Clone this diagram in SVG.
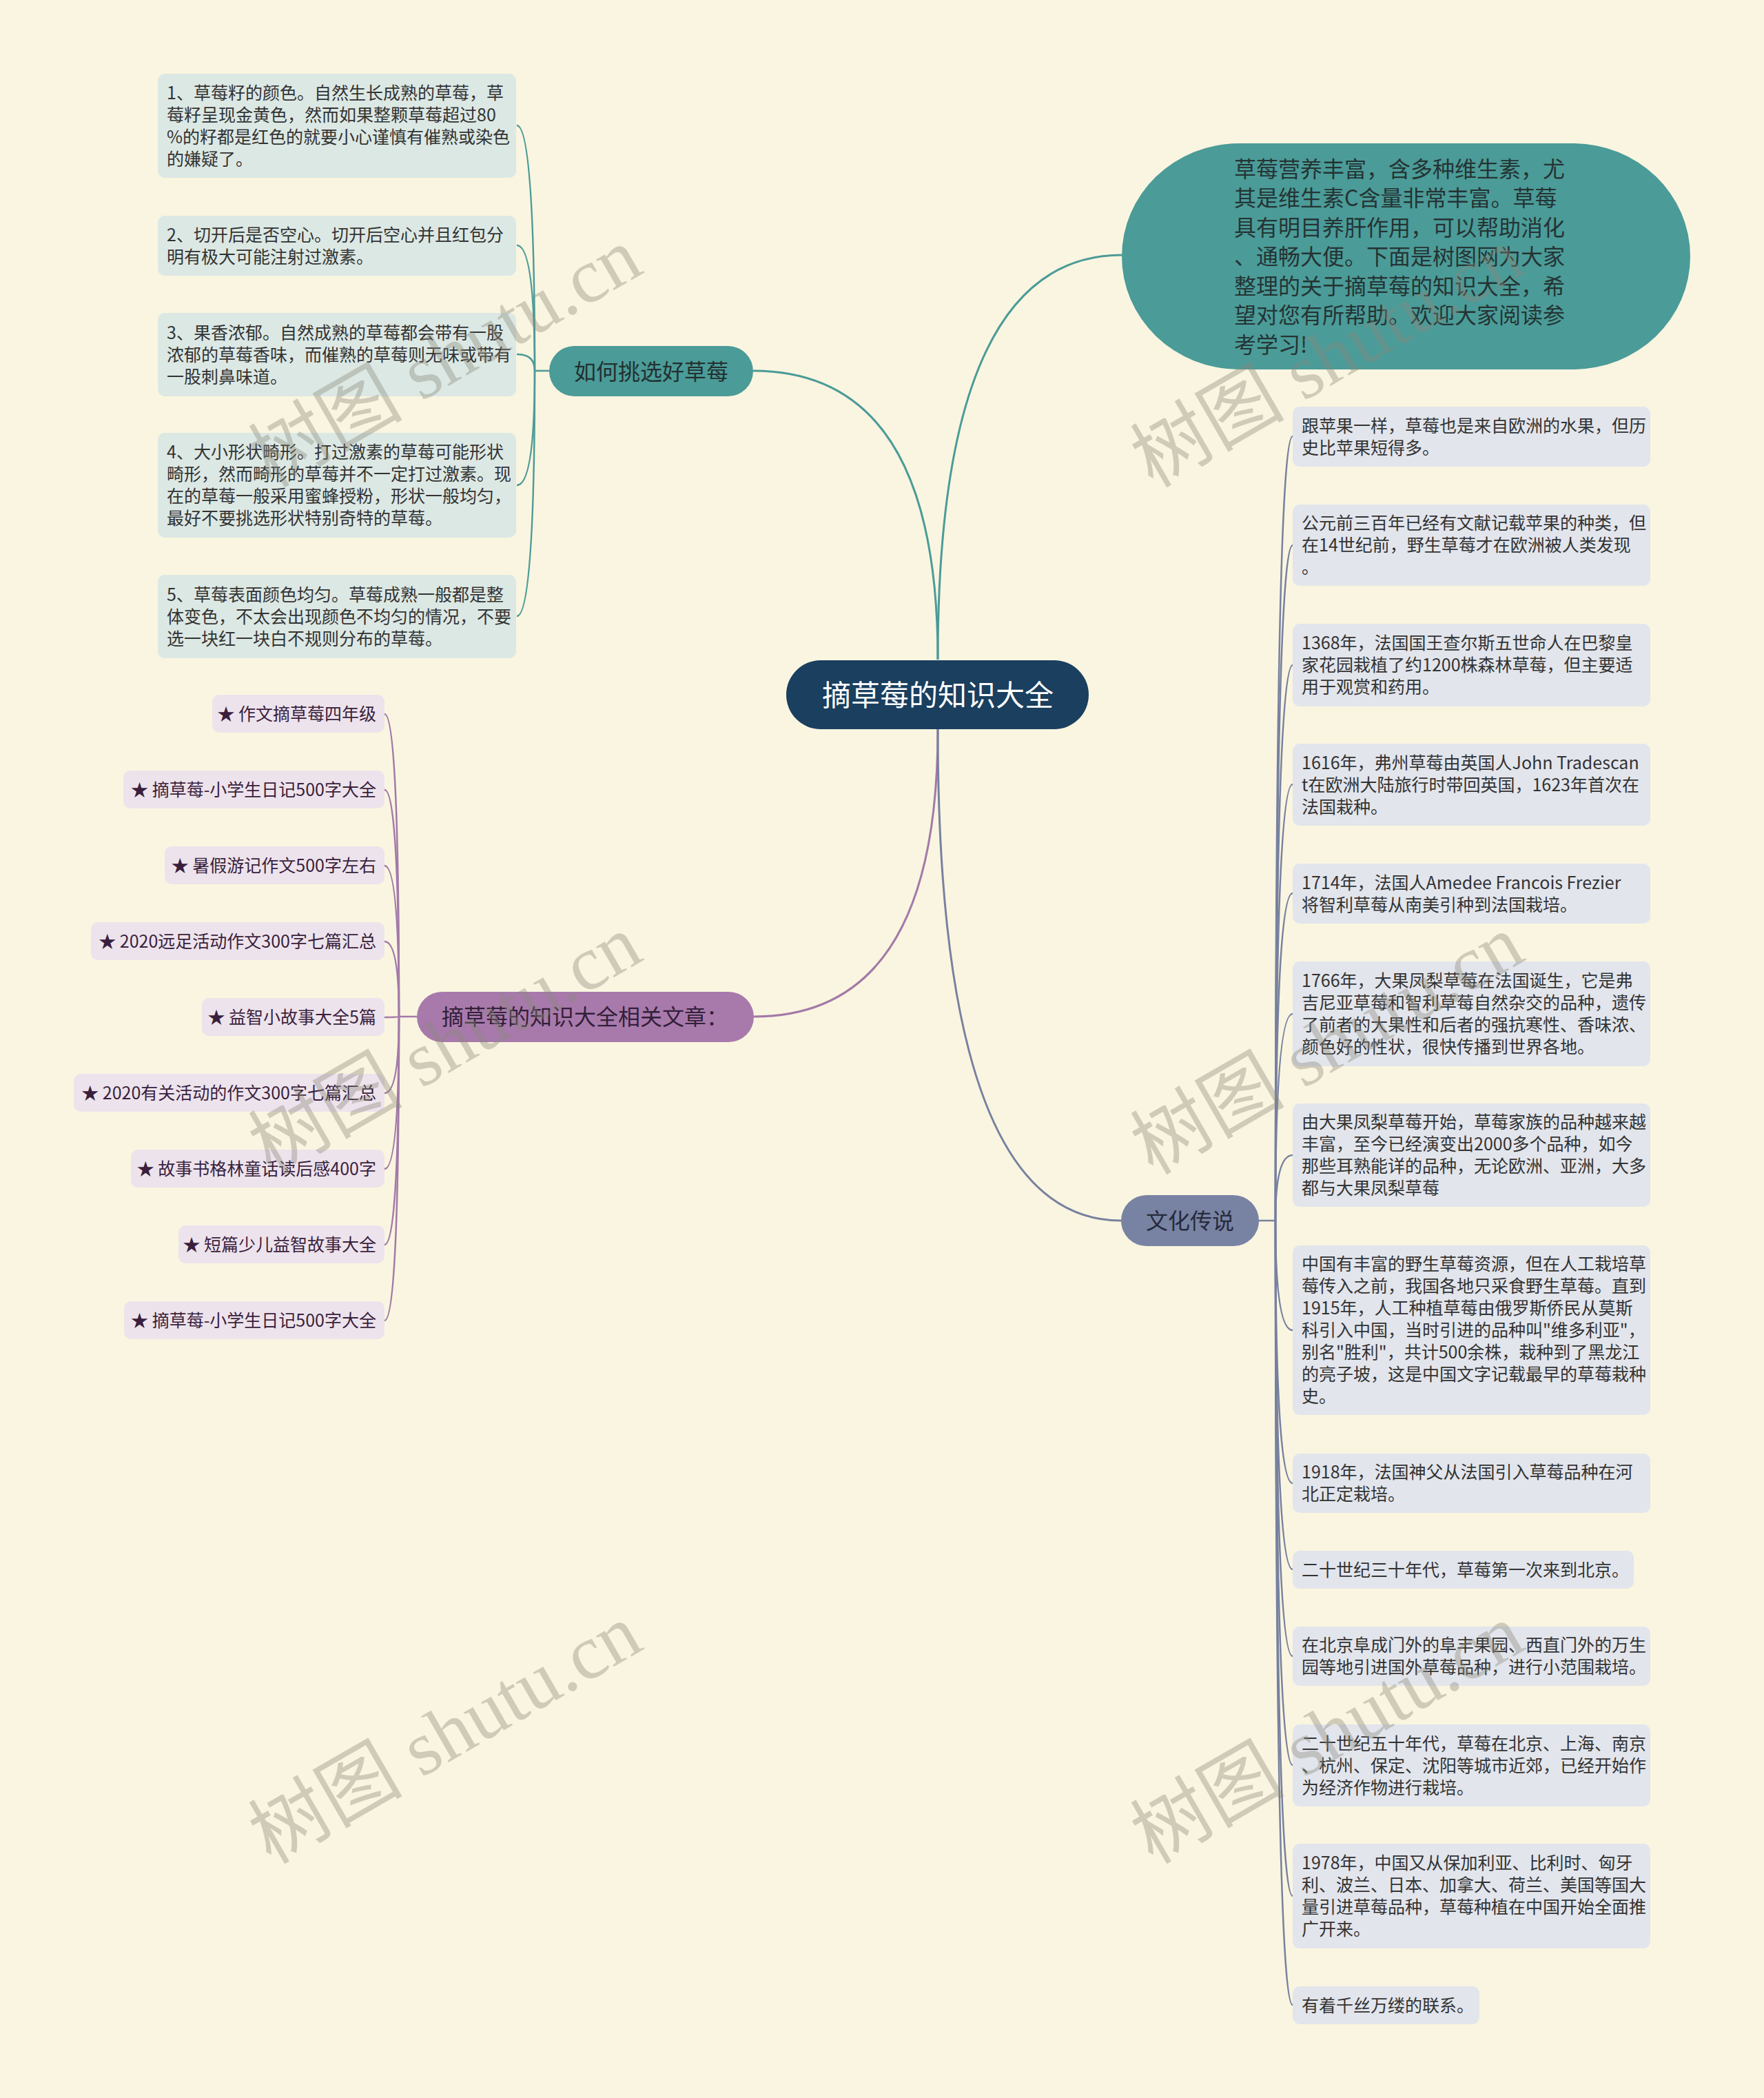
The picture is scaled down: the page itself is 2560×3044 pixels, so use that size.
<svg xmlns="http://www.w3.org/2000/svg" width="2560" height="3044" viewBox="0 0 2560 3044">
<style>
text{font-family:"Noto Sans CJK SC","Noto Sans",sans-serif;}
.t25{font-size:25px;fill:#333333;}
.tp{font-size:25px;fill:#3a1f3d;text-anchor:end;}
.b32{font-size:32px;fill:#22302f;text-anchor:middle;}
.intro{font-size:32px;fill:#243434;}
.cteal{fill:none;stroke:#4b9b98;stroke-width:3;}
.cpur{fill:none;stroke:#a27aa8;stroke-width:3;}
.cslate{fill:none;stroke:#77819f;stroke-width:3;}
.lteal{fill:#dce8e4;}
.lpur{fill:#ede3ec;}
.lslate{fill:#e2e5ec;}
.wm{font-family:"Liberation Serif","Noto Sans CJK SC",serif;font-size:112px;fill:#8a887a;opacity:0.38;text-anchor:middle;}
</style>
<rect x="0" y="0" width="2560" height="3044" fill="#faf5e0"/>

<g id="connectors">
<path class="cteal" d="M1361 957 Q1361 370 1628 370"/>
<path class="cteal" d="M1361 957 Q1361 538 1093 538"/>
<path class="cpur" d="M1361 1058 Q1361 1475 1094 1475"/>
<path class="cslate" d="M1361 1058 Q1361 1771 1627 1771"/>
<g class="cteal" style="stroke-width:2.5">
<path d="M797 538 H776"/>
<path d="M776 538 Q776 182 750 182"/>
<path d="M776 538 Q776 356 750 356"/>
<path d="M776 538 Q776 514 750 514"/>
<path d="M776 538 Q776 704 750 704"/>
<path d="M776 538 Q776 894 750 894"/>
</g>
<g class="cpur" style="stroke-width:2.5">
<path d="M605 1475 H579"/>
<path d="M579 1475 Q579 1036 558 1036"/>
<path d="M579 1475 Q579 1146 558 1146"/>
<path d="M579 1475 Q579 1256 558 1256"/>
<path d="M579 1475 Q579 1366 558 1366"/>
<path d="M579 1475 Q579 1476 558 1476"/>
<path d="M579 1475 Q579 1586 558 1586"/>
<path d="M579 1475 Q579 1696 558 1696"/>
<path d="M579 1475 Q579 1806 558 1806"/>
<path d="M579 1475 Q579 1916 558 1916"/>
</g>
<g class="cslate" style="stroke-width:2.5">
<path d="M1827 1771 H1851"/>
<path d="M1851 1771 Q1851 633 1876 633"/>
<path d="M1851 1771 Q1851 791 1876 791"/>
<path d="M1851 1771 Q1851 965 1876 965"/>
<path d="M1851 1771 Q1851 1138 1876 1138"/>
<path d="M1851 1771 Q1851 1296 1876 1296"/>
<path d="M1851 1771 Q1851 1471 1876 1471"/>
<path d="M1851 1771 Q1851 1676 1876 1676"/>
<path d="M1851 1771 Q1851 1930 1876 1930"/>
<path d="M1851 1771 Q1851 2152 1876 2152"/>
<path d="M1851 1771 Q1851 2277 1876 2277"/>
<path d="M1851 1771 Q1851 2403 1876 2403"/>
<path d="M1851 1771 Q1851 2561 1876 2561"/>
<path d="M1851 1771 Q1851 2751 1876 2751"/>
<path d="M1851 1771 Q1851 2909 1876 2909"/>
</g>
</g>

<g id="root">
<rect x="1141" y="958" width="439" height="100" rx="50" fill="#1a3f5f"/>
<text x="1361" y="1024" style="font-size:42px;fill:#ffffff;text-anchor:middle">摘草莓的知识大全</text>
</g>

<g id="intro">
<rect x="1628" y="208" width="825" height="328" rx="170" ry="164" fill="#4b9b98"/>
<text class="intro" x="1791" y="256.5">草莓营养丰富，含多种维生素，尤</text>
<text class="intro" x="1791" y="299">其是维生素C含量非常丰富。草莓</text>
<text class="intro" x="1791" y="341.5">具有明目养肝作用，可以帮助消化</text>
<text class="intro" x="1791" y="384">、通畅大便。下面是树图网为大家</text>
<text class="intro" x="1791" y="426.5">整理的关于摘草莓的知识大全，希</text>
<text class="intro" x="1791" y="469">望对您有所帮助。欢迎大家阅读参</text>
<text class="intro" x="1791" y="511.5">考学习!</text>
</g>

<g id="branch-pick">
<rect x="797" y="502" width="296" height="73" rx="36.5" fill="#4b9b98"/>
<text class="b32" x="945" y="550.5">如何挑选好草莓</text>
</g>

<g id="pick-1">
<rect class="lteal" x="229" y="107" width="520" height="151" rx="10"/>
<text class="t25" x="242" y="143.5">1、草莓籽的颜色。自然生长成熟的草莓，草</text>
<text class="t25" x="242" y="175.5">莓籽呈现金黄色，然而如果整颗草莓超过80</text>
<text class="t25" x="242" y="207.5">%的籽都是红色的就要小心谨慎有催熟或染色</text>
<text class="t25" x="242" y="239.5">的嫌疑了。</text>
</g>
<g id="pick-2">
<rect class="lteal" x="229" y="313" width="520" height="87" rx="10"/>
<text class="t25" x="242" y="349.5">2、切开后是否空心。切开后空心并且红包分</text>
<text class="t25" x="242" y="381.5">明有极大可能注射过激素。</text>
</g>
<g id="pick-3">
<rect class="lteal" x="229" y="454" width="520" height="121" rx="10"/>
<text class="t25" x="242" y="491.5">3、果香浓郁。自然成熟的草莓都会带有一股</text>
<text class="t25" x="242" y="523.5">浓郁的草莓香味，而催熟的草莓则无味或带有</text>
<text class="t25" x="242" y="555.5">一股刺鼻味道。</text>
</g>
<g id="pick-4">
<rect class="lteal" x="229" y="628" width="520" height="152" rx="10"/>
<text class="t25" x="242" y="665">4、大小形状畸形。打过激素的草莓可能形状</text>
<text class="t25" x="242" y="697">畸形，然而畸形的草莓并不一定打过激素。现</text>
<text class="t25" x="242" y="729">在的草莓一般采用蜜蜂授粉，形状一般均匀，</text>
<text class="t25" x="242" y="761">最好不要挑选形状特别奇特的草莓。</text>
</g>
<g id="pick-5">
<rect class="lteal" x="229" y="834" width="520" height="121" rx="10"/>
<text class="t25" x="242" y="871.5">5、草莓表面颜色均匀。草莓成熟一般都是整</text>
<text class="t25" x="242" y="903.5">体变色，不太会出现颜色不均匀的情况，不要</text>
<text class="t25" x="242" y="935.5">选一块红一块白不规则分布的草莓。</text>
</g>

<g id="branch-articles">
<rect x="605" y="1439" width="489" height="73" rx="36.5" fill="#a87aab"/>
<text class="b32" x="849" y="1487" style="fill:#33203a">摘草莓的知识大全相关文章：</text>
</g>
<g id="art-1"><rect class="lpur" x="308" y="1008" width="250" height="55" rx="10"/><text class="tp" x="546" y="1044.5">★ 作文摘草莓四年级</text></g>
<g id="art-2"><rect class="lpur" x="179" y="1118" width="379" height="55" rx="10"/><text class="tp" x="546" y="1154.5">★ 摘草莓-小学生日记500字大全</text></g>
<g id="art-3"><rect class="lpur" x="239" y="1228" width="319" height="55" rx="10"/><text class="tp" x="546" y="1264.5">★ 暑假游记作文500字左右</text></g>
<g id="art-4"><rect class="lpur" x="132" y="1338" width="426" height="55" rx="10"/><text class="tp" x="546" y="1374.5">★ 2020远足活动作文300字七篇汇总</text></g>
<g id="art-5"><rect class="lpur" x="293" y="1448" width="265" height="55" rx="10"/><text class="tp" x="546" y="1484.5">★ 益智小故事大全5篇</text></g>
<g id="art-6"><rect class="lpur" x="107" y="1558" width="451" height="55" rx="10"/><text class="tp" x="546" y="1594.5">★ 2020有关活动的作文300字七篇汇总</text></g>
<g id="art-7"><rect class="lpur" x="190" y="1668" width="368" height="55" rx="10"/><text class="tp" x="546" y="1704.5">★ 故事书格林童话读后感400字</text></g>
<g id="art-8"><rect class="lpur" x="259" y="1778" width="299" height="55" rx="10"/><text class="tp" x="546" y="1814.5">★ 短篇少儿益智故事大全</text></g>
<g id="art-9"><rect class="lpur" x="180" y="1888" width="378" height="55" rx="10"/><text class="tp" x="546" y="1924.5">★ 摘草莓-小学生日记500字大全</text></g>

<g id="branch-culture">
<rect x="1627" y="1734" width="200" height="74" rx="37" fill="#7883a3"/>
<text class="b32" x="1727" y="1783" style="fill:#262a3c">文化传说</text>
</g>
<g id="c-1"><rect class="lslate" x="1876" y="590" width="519" height="87" rx="10"/>
<text class="t25" x="1889" y="626.5">跟苹果一样，草莓也是来自欧洲的水果，但历</text>
<text class="t25" x="1889" y="658.5">史比苹果短得多。</text></g>
<g id="c-2"><rect class="lslate" x="1876" y="732" width="519" height="118" rx="10"/>
<text class="t25" x="1889" y="768">公元前三百年已经有文献记载苹果的种类，但</text>
<text class="t25" x="1889" y="800">在14世纪前，野生草莓才在欧洲被人类发现</text>
<text class="t25" x="1889" y="832">。</text></g>
<g id="c-3"><rect class="lslate" x="1876" y="905" width="519" height="120" rx="10"/>
<text class="t25" x="1889" y="942">1368年，法国国王查尔斯五世命人在巴黎皇</text>
<text class="t25" x="1889" y="974">家花园栽植了约1200株森林草莓，但主要适</text>
<text class="t25" x="1889" y="1006">用于观赏和药用。</text></g>
<g id="c-4"><rect class="lslate" x="1876" y="1079" width="519" height="119" rx="10"/>
<text class="t25" x="1889" y="1115.5">1616年，弗州草莓由英国人John Tradescan</text>
<text class="t25" x="1889" y="1147.5">t在欧洲大陆旅行时带回英国，1623年首次在</text>
<text class="t25" x="1889" y="1179.5">法国栽种。</text></g>
<g id="c-5"><rect class="lslate" x="1876" y="1253" width="519" height="87" rx="10"/>
<text class="t25" x="1889" y="1289.5">1714年，法国人Amedee Francois Frezier</text>
<text class="t25" x="1889" y="1321.5">将智利草莓从南美引种到法国栽培。</text></g>
<g id="c-6"><rect class="lslate" x="1876" y="1395" width="519" height="152" rx="10"/>
<text class="t25" x="1889" y="1432">1766年，大果凤梨草莓在法国诞生，它是弗</text>
<text class="t25" x="1889" y="1464">吉尼亚草莓和智利草莓自然杂交的品种，遗传</text>
<text class="t25" x="1889" y="1496">了前者的大果性和后者的强抗寒性、香味浓、</text>
<text class="t25" x="1889" y="1528">颜色好的性状，很快传播到世界各地。</text></g>
<g id="c-7"><rect class="lslate" x="1876" y="1601" width="519" height="150" rx="10"/>
<text class="t25" x="1889" y="1637">由大果凤梨草莓开始，草莓家族的品种越来越</text>
<text class="t25" x="1889" y="1669">丰富，至今已经演变出2000多个品种，如今</text>
<text class="t25" x="1889" y="1701">那些耳熟能详的品种，无论欧洲、亚洲，大多</text>
<text class="t25" x="1889" y="1733">都与大果凤梨草莓</text></g>
<g id="c-8"><rect class="lslate" x="1876" y="1807" width="519" height="246" rx="10"/>
<text class="t25" x="1889" y="1843">中国有丰富的野生草莓资源，但在人工栽培草</text>
<text class="t25" x="1889" y="1875">莓传入之前，我国各地只采食野生草莓。直到</text>
<text class="t25" x="1889" y="1907">1915年，人工种植草莓由俄罗斯侨民从莫斯</text>
<text class="t25" x="1889" y="1939">科引入中国，当时引进的品种叫"维多利亚"，</text>
<text class="t25" x="1889" y="1971">别名"胜利"，共计500余株，栽种到了黑龙江</text>
<text class="t25" x="1889" y="2003">的亮子坡，这是中国文字记载最早的草莓栽种</text>
<text class="t25" x="1889" y="2035">史。</text></g>
<g id="c-9"><rect class="lslate" x="1876" y="2109" width="519" height="86" rx="10"/>
<text class="t25" x="1889" y="2145">1918年，法国神父从法国引入草莓品种在河</text>
<text class="t25" x="1889" y="2177">北正定栽培。</text></g>
<g id="c-10"><rect class="lslate" x="1876" y="2250" width="495" height="55" rx="10"/>
<text class="t25" x="1889" y="2286.5">二十世纪三十年代，草莓第一次来到北京。</text></g>
<g id="c-11"><rect class="lslate" x="1876" y="2360" width="519" height="86" rx="10"/>
<text class="t25" x="1889" y="2396">在北京阜成门外的阜丰果园、西直门外的万生</text>
<text class="t25" x="1889" y="2428">园等地引进国外草莓品种，进行小范围栽培。</text></g>
<g id="c-12"><rect class="lslate" x="1876" y="2502" width="519" height="119" rx="10"/>
<text class="t25" x="1889" y="2538.5">二十世纪五十年代，草莓在北京、上海、南京</text>
<text class="t25" x="1889" y="2570.5">、杭州、保定、沈阳等城市近郊，已经开始作</text>
<text class="t25" x="1889" y="2602.5">为经济作物进行栽培。</text></g>
<g id="c-13"><rect class="lslate" x="1876" y="2675" width="519" height="152" rx="10"/>
<text class="t25" x="1889" y="2712">1978年，中国又从保加利亚、比利时、匈牙</text>
<text class="t25" x="1889" y="2744">利、波兰、日本、加拿大、荷兰、美国等国大</text>
<text class="t25" x="1889" y="2776">量引进草莓品种，草莓种植在中国开始全面推</text>
<text class="t25" x="1889" y="2808">广开来。</text></g>
<g id="c-14"><rect class="lslate" x="1876" y="2882" width="271" height="55" rx="10"/>
<text class="t25" x="1889" y="2918.5">有着千丝万缕的联系。</text></g>

<g id="watermarks">
<text class="wm" transform="translate(645 517) rotate(-30)" y="40">树图 shutu.cn</text>
<text class="wm" transform="translate(1925 517) rotate(-30)" y="40">树图 shutu.cn</text>
<text class="wm" transform="translate(645 1514) rotate(-30)" y="40">树图 shutu.cn</text>
<text class="wm" transform="translate(1925 1514) rotate(-30)" y="40">树图 shutu.cn</text>
<text class="wm" transform="translate(645 2514) rotate(-30)" y="40">树图 shutu.cn</text>
<text class="wm" transform="translate(1925 2514) rotate(-30)" y="40">树图 shutu.cn</text>
</g>
</svg>
